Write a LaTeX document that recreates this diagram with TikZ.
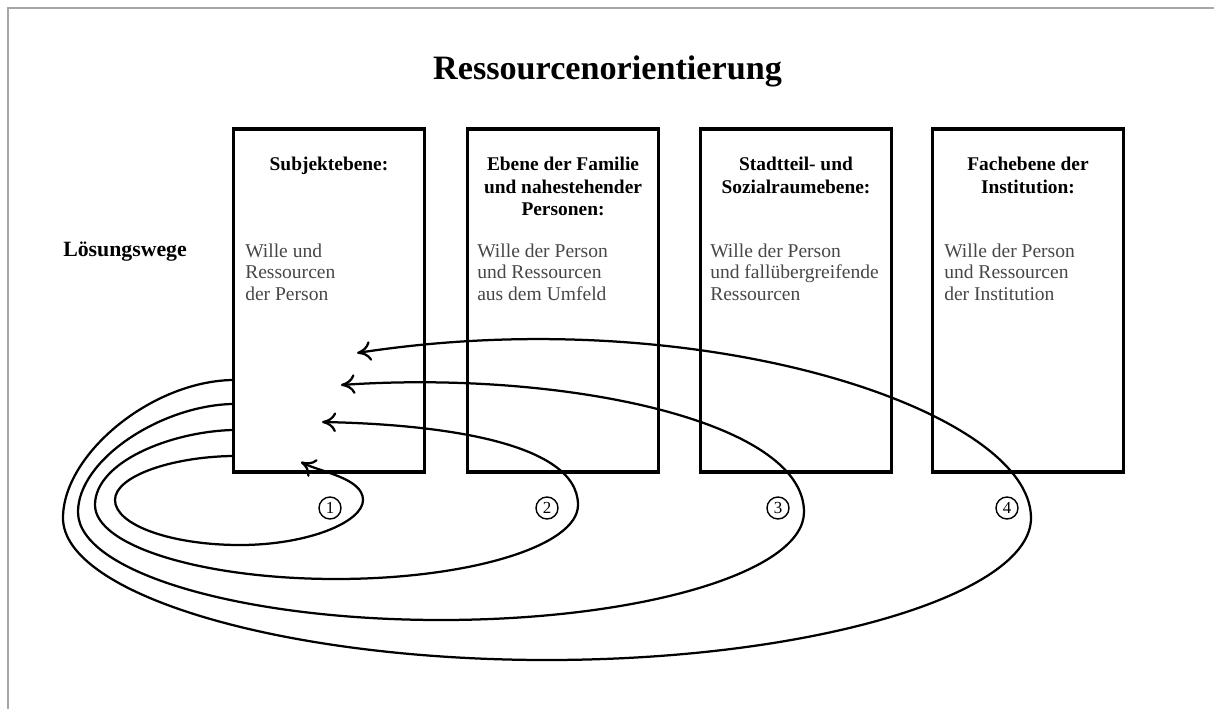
\documentclass[tikz,border=0pt]{standalone}
\usepackage{fontspec}
\setmainfont{Liberation Serif}
\usepackage{xcolor}
\usepackage{tikz}
\usetikzlibrary{arrows.meta}
\usetikzlibrary{positioning}

\tikzset{
  ebene/.style={draw, line width=2.4pt, minimum width=4.775cm, minimum height=8.575cm},
  kopf/.style={anchor=north, align=center, inner sep=0pt,
    font=\fontsize{13.8}{16}\selectfont\bfseries},
  inhalt/.style={anchor=north west, align=left, inner sep=0pt, text=black!72,
    font=\fontsize{13.9}{15.3}\selectfont},
  weg/.style={line width=1.6pt, -{Computer Modern Rightarrow[length=10pt,width=14pt]}},
  nummer/.style={circle, draw, line width=1pt, inner sep=0pt, minimum size=0.55cm,
    font=\fontsize{12}{12}\selectfont}
}

\begin{document}
\begin{tikzpicture}[x=0.025cm, y=-0.025cm]
    \useasboundingbox (0,0) rectangle (1214,709);
    \draw[black!35, line width=0.8pt] (8,709) -- (8,8) -- (1214,8);

    \node[anchor=base, inner sep=0pt, font=\fontsize{24.3}{24}\selectfont\bfseries]
      (titel) at (607.5,80) {Ressourcenorientierung};
    \node[anchor=base west, inner sep=0pt, font=\fontsize{15.5}{15}\selectfont\bfseries]
      (wege) at (63,256) {Lösungswege};

    % die vier Ebenen
    \node[ebene] (b1) at (329,300.5) {};
    \node[ebene] (b2) at (563,300.5) {};
    \node[ebene] (b3) at (796,300.5) {};
    \node[ebene] (b4) at (1028,300.5) {};

    \node[kopf, below=0.74cm of b1.north] (k1) {Subjektebene:};
    \node[kopf, below=0.74cm of b2.north] (k2) {Ebene der Familie\\und nahestehender\\Personen:};
    \node[kopf, below=0.74cm of b3.north] (k3) {Stadtteil- und\\Sozialraumebene:};
    \node[kopf, below=0.74cm of b4.north] (k4) {Fachebene der\\Institution:};

    \node[inhalt, below right=2.9cm and 0.33cm of b1.north west] (t1) {Wille und\\Ressourcen\\der Person};
    \node[inhalt, below right=2.9cm and 0.28cm of b2.north west] (t2) {Wille der Person\\und Ressourcen\\aus dem Umfeld};
    \node[inhalt, below right=2.9cm and 0.28cm of b3.north west] (t3) {Wille der Person\\und fallübergreifende\\Ressourcen};
    \node[inhalt, below right=2.9cm and 0.33cm of b4.north west] (t4) {Wille der Person\\und Ressourcen\\der Institution};

    % Anfang und Ende der Wege
    \coordinate (a1) at (b1.west |- 0,456);
    \coordinate (a2) at (b1.west |- 0,430);
    \coordinate (a3) at (b1.west |- 0,404);
    \coordinate (a4) at (b1.west |- 0,380);
    \coordinate (e1) at (301,462);
    \coordinate (e2) at (322,422);
    \coordinate (e3) at (341,385);
    \coordinate (e4) at (357,353);

    \draw[weg] (a1) .. controls (172,457) and (115,476) .. (115,500)
      .. controls (115,525) and (171,545) .. (240,545)
      .. controls (308,545) and (363,522) .. (363,500)
      .. controls (363,478) and (320,472) .. (e1);
    \draw[weg] (a2) .. controls (170,432) and (95,462) .. (95,505)
      .. controls (95,546) and (203,579) .. (336,579)
      .. controls (469,579) and (578,546) .. (578,505)
      .. controls (578,440) and (430,424) .. (e2);
    \draw[weg] (a3) .. controls (160,406) and (78,460) .. (78,512)
      .. controls (78,572) and (241,620) .. (441,620)
      .. controls (641,620) and (804,572) .. (804,512)
      .. controls (804,420) and (560,370) .. (e3);
    \draw[weg] (a4) .. controls (150,382) and (63,455) .. (63,518)
      .. controls (63,594) and (281,660) .. (547,660)
      .. controls (813,660) and (1031,594) .. (1031,518)
      .. controls (1031,410) and (700,300) .. (e4);

    \node[nummer] (n1) at (330,508) {1};
    \node[nummer] (n2) at (547,508) {2};
    \node[nummer] (n3) at (778,508) {3};
    \node[nummer] (n4) at (1007,508) {4};
\end{tikzpicture}
\end{document}
